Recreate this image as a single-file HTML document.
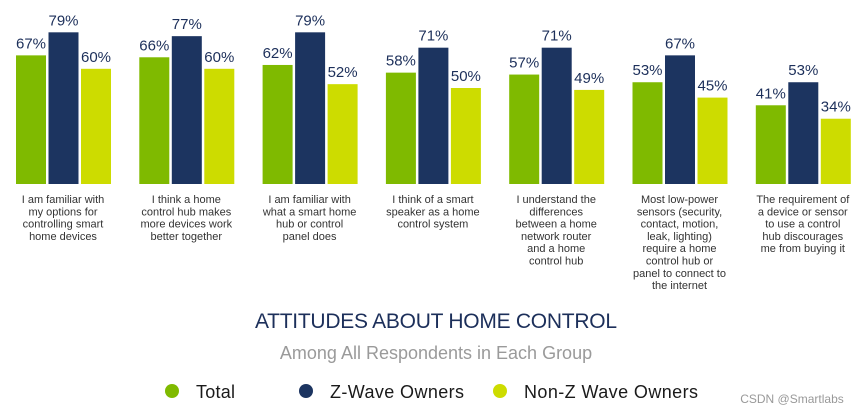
<!DOCTYPE html>
<html><head><meta charset="utf-8"><style>
body{margin:0;background:#fff;width:865px;height:411px;overflow:hidden;font-family:"Liberation Sans",sans-serif}
</style></head><body>
<svg width="865" height="411">
<g id="bars"></g>
<text x="436" y="328" text-anchor="middle" font-size="21" fill="#1c2f5a" textLength="362">ATTITUDES ABOUT HOME CONTROL</text>
<text x="436" y="359" text-anchor="middle" font-size="18" fill="#9a9a9a">Among All Respondents in Each Group</text>
<g>
<circle cx="172" cy="391" r="7" fill="#7fba00"/>
<text x="196" y="398" font-size="18" fill="#1a1a1a" textLength="39">Total</text>
<circle cx="306" cy="391" r="7" fill="#1c3460"/>
<text x="330" y="398" font-size="18" fill="#1a1a1a" textLength="134">Z-Wave Owners</text>
<circle cx="500" cy="391" r="7" fill="#cddc00"/>
<text x="524" y="398" font-size="18" fill="#1a1a1a" textLength="174">Non-Z Wave Owners</text>
</g>
<text x="792" y="403" text-anchor="middle" font-size="12" fill="#999">CSDN @Smartlabs</text>
</svg>
<script>
const categories=[
["I am familiar with","my options for","controlling smart","home devices"],
["I think a home","control hub makes","more devices work","better together"],
["I am familiar with","what a smart home","hub or control","panel does"],
["I think of a smart","speaker as a home","control system"],
["I understand the","differences","between a home","network router","and a home","control hub"],
["Most low-power","sensors (security,","contact, motion,","leak, lighting)","require a home","control hub or","panel to connect to","the internet"],
["The requirement of","a device or sensor","to use a control","hub discourages","me from buying it"]];
const totalVals=[67,66,62,58,57,53,41];
const zwaveVals=[79,77,79,71,71,67,53];
const nonZwaveVals=[60,60,52,50,49,45,34];
const colors=["#7fba00","#1c3460","#cddc00"];
const seriesNames=["total","zwave","nonzwave"];
const NS="http://www.w3.org/2000/svg";
const g=document.getElementById('bars');
const base=184, ppu=1.92;
const yS=v=>base-v*ppu;
const xC=i=>63+i*123.3;
const series=[totalVals,zwaveVals,nonZwaveVals];
categories.forEach((cat,i)=>{
  series.forEach((vals,s)=>{
    const x=xC(i)-47+s*32.5, w=30;
    const r=document.createElementNS(NS,'rect');
    r.setAttribute('x',x);r.setAttribute('y',yS(vals[i]));r.setAttribute('width',w);r.setAttribute('height',vals[i]*ppu);r.setAttribute('fill',colors[s]);
    
    
    g.appendChild(r);
    const t=document.createElementNS(NS,'text');
    t.setAttribute('x',x+w/2);t.setAttribute('y',yS(vals[i])-7);t.setAttribute('text-anchor','middle');t.setAttribute('font-size','15');t.setAttribute('fill','#1c2f5a');
    t.textContent=vals[i]+'%';
    
    
    g.appendChild(t);
  });
  const ct=document.createElementNS(NS,'text');
  ct.setAttribute('text-anchor','middle');ct.setAttribute('font-size','11');ct.setAttribute('fill','#333');
  
  
  cat.forEach((line,k)=>{
    const ts=document.createElementNS(NS,'tspan');
    ts.setAttribute('x',xC(i));ts.setAttribute('y',203+k*12.3);ts.textContent=line;ct.appendChild(ts);
  });
  g.appendChild(ct);
});
</script>
</body></html>
